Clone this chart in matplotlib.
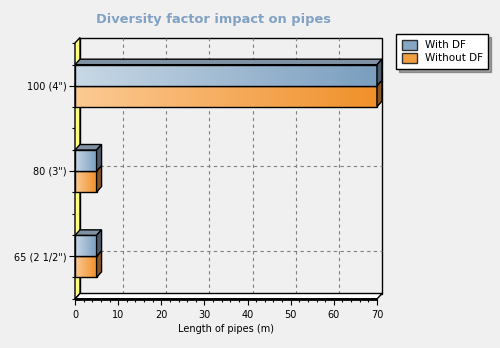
import matplotlib
matplotlib.use('Agg')
import matplotlib.pyplot as plt
import numpy as np
from matplotlib.patches import Rectangle, Polygon, Patch
from matplotlib.colors import LinearSegmentedColormap

categories = ['65 (2 1/2")', '80 (3")', '100 (4")']
with_df = [5, 5, 70]
without_df = [5, 5, 70]
x_max = 70

# pixel geometry of the plot box
W, H = 500, 348
left_px, right_px, top_px, bottom_px = 75, 377, 43, 299
depth = 5

fig = plt.figure(figsize=(W / 100, H / 100), dpi=100, facecolor='#f0f0f0')
ax = fig.add_axes([left_px / W, 1 - bottom_px / H,
                   (right_px - left_px) / W, (bottom_px - top_px) / H])
ax.set_facecolor('none')
ax.set_xlim(0, x_max)
ax.set_ylim(0, len(categories))
for s in ax.spines.values():
    s.set_visible(False)

# depth offset in data units
ddx = depth * x_max / (right_px - left_px)
ddy = (depth + 0.5) * len(categories) / (bottom_px - top_px)
bar_h = 21 * len(categories) / (bottom_px - top_px)

# back wall
ax.add_patch(Rectangle((ddx, ddy), x_max, len(categories), facecolor='#f0f0f0',
                       edgecolor='black', lw=1, zorder=0, clip_on=False))
for gx in range(10, x_max, 10):
    ax.plot([gx + ddx] * 2, [ddy, len(categories) + ddy], color='#808080',
            lw=0.8, dashes=(3, 3), zorder=1, clip_on=False)
for i in range(len(categories)):
    ax.plot([ddx, x_max + ddx], [i + 0.5 + ddy] * 2, color='#808080',
            lw=0.8, dashes=(3, 3), zorder=1, clip_on=False)

# left wall and floor
ax.add_patch(Polygon([(0, 0), (0, len(categories)), (ddx, len(categories) + ddy), (ddx, ddy)],
                     facecolor='#ffff80', edgecolor='black', lw=1, zorder=2, clip_on=False))
ax.add_patch(Polygon([(0, 0), (x_max, 0), (x_max + ddx, ddy), (ddx, ddy)],
                     facecolor='white', edgecolor='black', lw=1, zorder=2, clip_on=False))
ax.plot([0, x_max], [0, 0], color='black', lw=2, zorder=3, clip_on=False, solid_capstyle='butt')

blue_cm = LinearSegmentedColormap.from_list('b', ['#c8d8e6', '#7a9ebf'])
orange_cm = LinearSegmentedColormap.from_list('o', ['#fcca94', '#f0902a'])
grad = np.linspace(0, 1, 256).reshape(1, -1)


def draw_bar(val, y0, cmap, top_col, side_col, z):
    y1 = y0 + bar_h
    ax.imshow(grad, cmap=cmap, extent=(0, val, y0, y1), aspect='auto',
              zorder=z, clip_on=False, interpolation='bilinear')
    ax.add_patch(Rectangle((0, y0), val, bar_h, facecolor='none', edgecolor='black',
                           lw=1, zorder=z + 0.1, clip_on=False))
    ax.add_patch(Polygon([(0, y1), (val, y1), (val + ddx, y1 + ddy), (ddx, y1 + ddy)],
                         facecolor=top_col, edgecolor='black', lw=1, zorder=z + 0.1, clip_on=False))
    ax.add_patch(Polygon([(val, y0), (val, y1), (val + ddx, y1 + ddy), (val + ddx, y0 + ddy)],
                         facecolor=side_col, edgecolor='black', lw=1, zorder=z + 0.1, clip_on=False))


for i, (a, b) in enumerate(zip(with_df, without_df)):
    c = i + 0.5
    draw_bar(b, c - bar_h, orange_cm, '#c07a35', '#8a5524', 4)
    draw_bar(a, c, blue_cm, '#7f91a3', '#4c5c6c', 5)

ax.set_xticks(range(0, x_max + 1, 10))
ax.set_xticks(range(0, x_max + 1, 2), minor=True)
ax.set_yticks([i + 0.5 for i in range(len(categories))])
ax.set_yticklabels(categories)
minor_y = sorted([i for i in range(len(categories) + 1)] +
                 [i + 0.5 + s * bar_h for i in range(len(categories)) for s in (-1, 1)])
ax.set_yticks(minor_y, minor=True)
ax.tick_params(axis='both', which='major', length=4, width=0.8, labelsize=7, pad=2)
ax.tick_params(axis='both', which='minor', length=2, width=0.8)
ax.tick_params(axis='x', pad=4)
ax.set_xlabel('Length of pipes (m)', fontsize=7, labelpad=3)

fig.text(213 / W, 1 - 20 / H, 'Diversity factor impact on pipes', ha='center', va='center',
         fontsize=9.4, fontweight='bold', color='#82a2c4')

handles = [Patch(facecolor='#87a6c5', edgecolor='#303030', label='With DF'),
           Patch(facecolor='#f0a040', edgecolor='#303030', label='Without DF')]
leg = fig.legend(handles=handles, loc='upper left', bbox_to_anchor=(396 / W, 1 - 34 / H),
                 fontsize=7.5, frameon=True, fancybox=False, shadow=True, framealpha=1,
                 edgecolor='black', handlelength=1.5, handleheight=1.1, handletextpad=0.7,
                 borderpad=0.55, labelspacing=0.25, borderaxespad=0)
leg.get_frame().set_linewidth(1)

fig.savefig('out.png', dpi=100, facecolor=fig.get_facecolor())
